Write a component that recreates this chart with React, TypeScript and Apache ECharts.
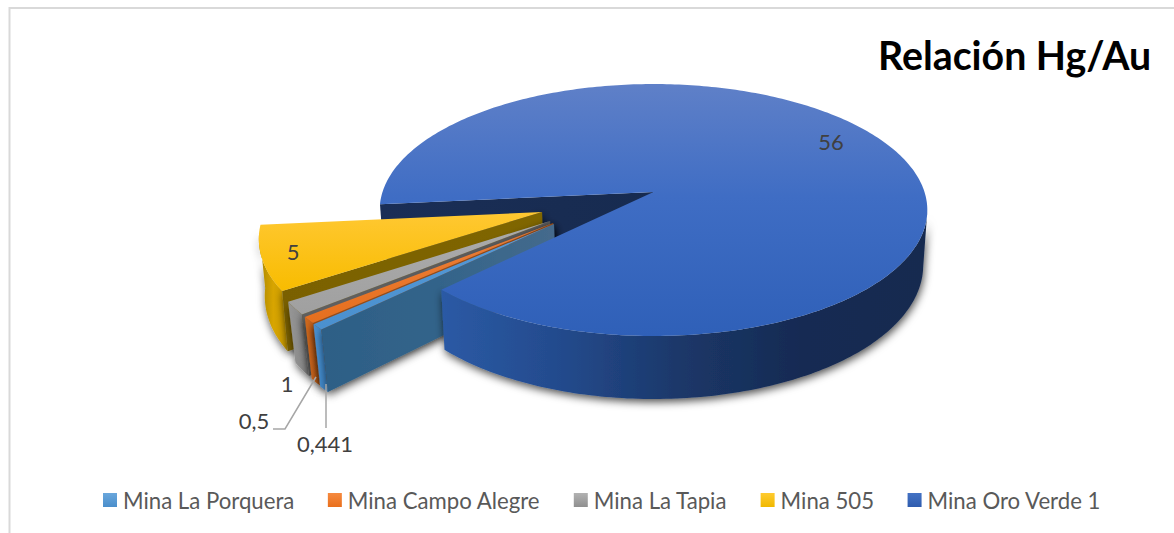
import React, { useEffect, useRef } from "react";
import * as echarts from "echarts";

const names = ["Mina La Porquera", "Mina Campo Alegre", "Mina La Tapia", "Mina 505", "Mina Oro Verde 1"];
const values = [0.441, 0.5, 1, 5, 56];

// layout of the 3D projection
const CX = 653.5, CY = 192, RX = 271, KY = 123.4, P = 0.143, WALL = 54;
const FIRST_PHI = 45.3;
const explodeX = [-0.354, -0.357, -0.369, -0.402, 0];
const explodeY = [0.25, 0.243, 0.227, 0.158, 0];
const converge = [0.98, 0.98, 0.98, 0.985, 0.985];
const zOrder = [40, 30, 20, 10, 50];

const v = (a: string, b: string, mid?: string) => ({
  type: "linear", x: 0, y: 0, x2: 0, y2: 1,
  colorStops: mid
    ? [{ offset: 0, color: a }, { offset: 0.45, color: mid }, { offset: 1, color: b }]
    : [{ offset: 0, color: a }, { offset: 1, color: b }],
});
const h = (stops: string[]) => ({
  type: "linear", x: 0, y: 0, x2: 1, y2: 0,
  colorStops: stops.map((color, i) => ({ offset: i / (stops.length - 1), color })),
});

const topFill = [
  v("#559ad8", "#4a90cf"),
  v("#f0803a", "#e56f1e"),
  v("#acacac", "#a0a0a0"),
  v("#ffc832", "#f8bc00"),
  v("#5f80c8", "#2f60b8", "#3f6dc4"),
];
const outerFill = [
  h(["#4a90cf", "#3a80c0"]),
  h(["#d0691f", "#c05e17"]),
  h(["#969696", "#858585"]),
  h(["#a98600", "#d8a500", "#c89a00"]),
  h(["#2b5aa5", "#234a8c", "#1b3768", "#162a52", "#172b50"]),
];
const innerFill = [
  h(["#2d5f86", "#33648a", "#456a8c"]),
  h(["#9c4c12", "#9c4c12"]),
  h(["#5f5f5f", "#5a5a5a"]),
  h(["#7a6100", "#806600"]),
  h(["#1a2e56", "#172b50"]),
];
const legendFill = [
  v("#6aa7dc", "#4a8ecb"),
  v("#f68a3f", "#e96f1c"),
  v("#b2b2b2", "#8f8f8f"),
  v("#ffcb30", "#f0b800"),
  v("#4472c4", "#2f5cae"),
];

const labelX = [325, 254, 287, 293, 831];
const labelY = [443, 420, 383, 251, 141];
const leaderLines: number[][][] = [
  [[326, 384], [326, 428]],
  [[316, 377], [285, 429], [273, 429]],
  [],
  [],
  [],
];

const total = values.reduce((a, b) => a + b, 0);
const rad = (d: number) => (d * Math.PI) / 180;

function project(X: number, Y: number, bottom = false, conv = 1): number[] {
  const w = 1 - P * Y;
  const x = CX + (RX * X) / w;
  const y = CY + (KY * Y) / w;
  return bottom ? [CX + (x - CX) * conv, y + WALL / w] : [x, y];
}

function renderSlice(index: number) {
  return (_params: any, api: any) => {
    const value = api.value(0);
    let before = 0;
    for (let i = 0; i < index; i++) before += values[i];
    const start = FIRST_PHI - (before / total) * 360;
    const end = start - (value / total) * 360;
    const ox = explodeX[index], oy = explodeY[index], conv = converge[index];
    const top: number[][] = [];
    const rimTop: number[][] = [];
    const rimBottom: number[][] = [];
    const steps = Math.max(2, Math.ceil(Math.abs(start - end)));
    for (let s = 0; s <= steps; s++) {
      const phi = start + ((end - start) * s) / steps;
      const X = ox - Math.cos(rad(phi));
      const Y = oy + Math.sin(rad(phi));
      top.push(project(X, Y));
      if (Math.sin(rad(phi)) >= P) {
        rimTop.push(project(X, Y));
        rimBottom.push(project(X, Y, true, conv));
      }
    }
    const apex = project(ox, oy);
    const apexLow = project(ox, oy, true, conv);
    const sX = ox - Math.cos(rad(start)), sY = oy + Math.sin(rad(start));
    const shadow = { shadowBlur: 8, shadowOffsetX: 1, shadowOffsetY: 3, shadowColor: "rgba(0,0,0,0.7)" };
    const z = zOrder[index];
    const isMain = index === values.length - 1;
    const children: any[] = [];
    children.push({
      type: "polygon",
      z2: isMain ? 1 : z + 1,
      shape: { points: [apex, project(sX, sY), project(sX, sY, true, conv), apexLow] },
      style: { fill: innerFill[index], ...(isMain ? {} : shadow) },
    });
    if (rimTop.length > 1) {
      children.push({
        type: "polygon",
        z2: z,
        shape: { points: [...rimTop, ...rimBottom.slice().reverse()] },
        style: { fill: outerFill[index], ...shadow },
      });
    }
    children.push({
      type: "polygon",
      z2: z + 2,
      shape: { points: [apex, ...top] },
      style: { fill: topFill[index] },
    });
    if (leaderLines[index].length) {
      children.push({
        type: "polyline",
        z2: 100,
        shape: { points: leaderLines[index] },
        style: { fill: "none", stroke: "#a6a6a6", lineWidth: 1.5 },
      });
    }
    children.push({
      type: "text",
      z2: 101,
      x: labelX[index],
      y: labelY[index],
      style: {
        text: String(value).replace(".", ","),
        fill: "#404040",
        fontFamily: "Lato",
        fontSize: 22,
        align: "center",
        verticalAlign: "middle",
      },
    });
    return { type: "group", children };
  };
}

export default function App() {
  const ref = useRef<HTMLDivElement>(null);
  useEffect(() => {
    const chart = echarts.init(ref.current!, undefined, { renderer: "svg" });
    chart.setOption({
      animation: false,
      backgroundColor: "#ffffff",
      title: {
        text: "Relación Hg/Au",
        left: 878,
        top: 35,
        padding: 0,
        textStyle: { fontFamily: "Lato", fontWeight: "bold", fontSize: 39.3, color: "#000000" },
      },
      legend: {
        left: 103,
        top: 489,
        padding: 0,
        orient: "horizontal",
        itemWidth: 14,
        itemHeight: 14,
        itemGap: 33.5,
        icon: "rect",
        data: names,
        textStyle: { fontFamily: "Lato", fontSize: 22.2, color: "#595959", padding: [0, 0, 0, 1] },
      },
      graphic: [
        {
          type: "polyline",
          shape: { points: [[9.5, 533], [9.5, 8], [1174, 8]] },
          style: { fill: "none", stroke: "#d9d9d9", lineWidth: 2 },
        },
      ],
      series: names.map((name, i) => ({
        type: "custom",
        name,
        coordinateSystem: "none",
        silent: true,
        itemStyle: { color: legendFill[i] },
        data: [[values[i]]],
        renderItem: renderSlice(i),
      })),
    });
    return () => chart.dispose();
  }, []);
  return (
    <div
      ref={ref}
      style={{ position: "fixed", left: 0, top: 0, width: 1174, height: 533, overflow: "hidden" }}
    />
  );
}
